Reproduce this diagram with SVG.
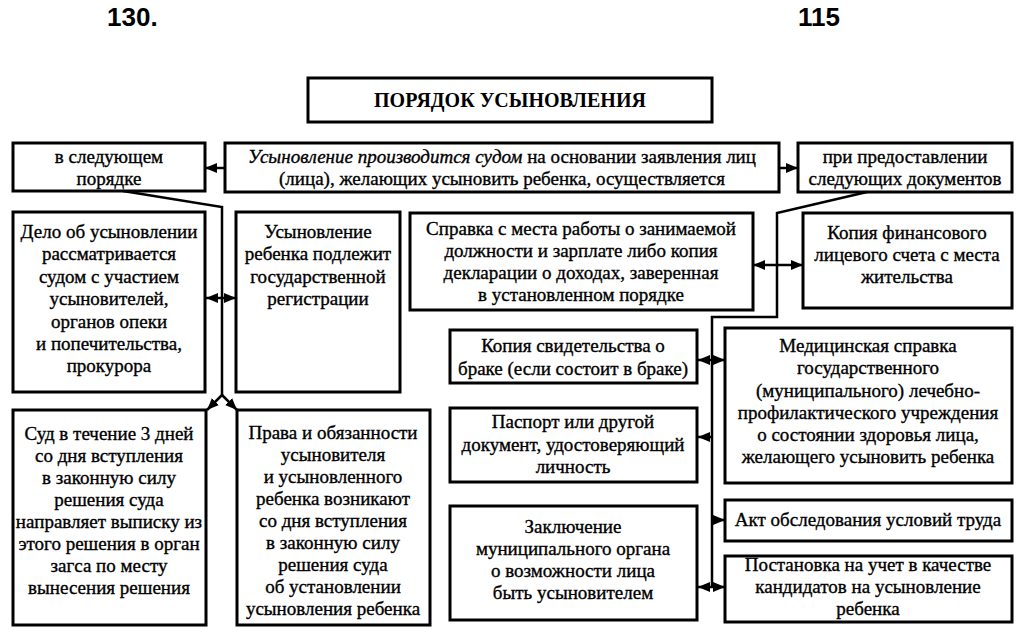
<svg xmlns="http://www.w3.org/2000/svg" width="1028" height="643" viewBox="0 0 1028 643">
<style>
  .box{fill:#fff;stroke:#000;stroke-width:3}
  .t{font-family:'Liberation Serif','Times New Roman','DejaVu Serif',serif;font-size:19px;fill:#000;stroke:#000;stroke-width:0.35;text-anchor:middle}
  .ttl{font-family:'Liberation Serif','Times New Roman','DejaVu Serif',serif;font-size:20px;font-weight:bold;fill:#000;text-anchor:middle}
  .pg{font-family:'Liberation Sans',Arial,sans-serif;font-size:26px;font-weight:bold;fill:#000}
  .c{fill:none;stroke:#000;stroke-width:2.5}
</style>
<defs>
  <marker id="ah" viewBox="0 0 12 10" refX="12" refY="5" markerWidth="12" markerHeight="10" markerUnits="userSpaceOnUse" orient="auto-start-reverse">
    <path d="M0,0 L12,5 L0,10 z" fill="#000"/>
  </marker>
</defs>
<rect width="1028" height="643" fill="#fff"/>
<text class="pg" x="107" y="26">130.</text>
<text class="pg" x="798" y="26">115</text>

<g id="title">
  <rect class="box" x="308" y="78" width="404" height="44"/>
  <text class="ttl" x="510" y="107">ПОРЯДОК УСЫНОВЛЕНИЯ</text>
</g>
<g id="order">
  <rect class="box" x="13" y="143" width="192" height="48"/>
  <text class="t" x="109" y="163">в следующем</text>
  <text class="t" x="109" y="185">порядке</text>
</g>
<g id="main">
  <rect class="box" x="225" y="143" width="554" height="49"/>
  <text class="t" x="502" y="163"><tspan font-style="italic">Усыновление производится судом</tspan> на основании заявления лиц</text>
  <text class="t" x="502" y="185">(лица), желающих усыновить ребенка, осуществляется</text>
</g>
<g id="docs">
  <rect class="box" x="798" y="143" width="214" height="49"/>
  <text class="t" x="905" y="163">при предоставлении</text>
  <text class="t" x="905" y="185">следующих документов</text>
</g>
<g id="case">
  <rect class="box" x="13" y="212" width="192" height="180"/>
  <text class="t" x="109" y="238">Дело об усыновлении</text>
  <text class="t" x="109" y="260">рассматривается</text>
  <text class="t" x="109" y="283">судом с участием</text>
  <text class="t" x="109" y="305">усыновителей,</text>
  <text class="t" x="109" y="328">органов опеки</text>
  <text class="t" x="109" y="350">и попечительства,</text>
  <text class="t" x="109" y="372">прокурора</text>
</g>
<g id="registration">
  <rect class="box" x="236" y="212" width="164" height="180"/>
  <text class="t" x="318" y="238">Усыновление</text>
  <text class="t" x="318" y="260">ребенка подлежит</text>
  <text class="t" x="318" y="283">государственной</text>
  <text class="t" x="318" y="305">регистрации</text>
</g>
<g id="court">
  <rect class="box" x="13" y="410" width="193" height="215"/>
  <text class="t" x="109" y="440">Суд в течение 3 дней</text>
  <text class="t" x="109" y="462">со дня вступления</text>
  <text class="t" x="109" y="484">в законную силу</text>
  <text class="t" x="109" y="506">решения суда</text>
  <text class="t" x="109" y="528">направляет выписку из</text>
  <text class="t" x="109" y="550">этого решения в орган</text>
  <text class="t" x="109" y="572">загса по месту</text>
  <text class="t" x="109" y="594">вынесения решения</text>
</g>
<g id="rights">
  <rect class="box" x="237" y="410" width="193" height="215"/>
  <text class="t" x="333" y="439">Права и обязанности</text>
  <text class="t" x="333" y="461">усыновителя</text>
  <text class="t" x="333" y="483">и усыновленного</text>
  <text class="t" x="333" y="505">ребенка возникают</text>
  <text class="t" x="333" y="527">со дня вступления</text>
  <text class="t" x="333" y="549">в законную силу</text>
  <text class="t" x="333" y="571">решения суда</text>
  <text class="t" x="333" y="593">об установлении</text>
  <text class="t" x="333" y="615">усыновления ребенка</text>
</g>
<g id="work">
  <rect class="box" x="410" y="213" width="343" height="97"/>
  <text class="t" x="581" y="235">Справка с места работы о занимаемой</text>
  <text class="t" x="581" y="257">должности и зарплате либо копия</text>
  <text class="t" x="581" y="279">декларации о доходах, заверенная</text>
  <text class="t" x="581" y="301">в установленном порядке</text>
</g>
<g id="account">
  <rect class="box" x="803" y="213" width="209" height="95"/>
  <text class="t" x="907" y="239">Копия финансового</text>
  <text class="t" x="907" y="261">лицевого счета с места</text>
  <text class="t" x="907" y="283">жительства</text>
</g>
<g id="marriage">
  <rect class="box" x="450" y="330" width="247" height="53"/>
  <text class="t" x="573" y="352">Копия свидетельства о</text>
  <text class="t" x="573" y="375">браке (если состоит в браке)</text>
</g>
<g id="medical">
  <rect class="box" x="725" y="328" width="287" height="155"/>
  <text class="t" x="868" y="352">Медицинская справка</text>
  <text class="t" x="868" y="374">государственного</text>
  <text class="t" x="868" y="397">(муниципального) лечебно-</text>
  <text class="t" x="868" y="419">профилактического учреждения</text>
  <text class="t" x="868" y="441">о состоянии здоровья лица,</text>
  <text class="t" x="868" y="463">желающего усыновить ребенка</text>
</g>
<g id="passport">
  <rect class="box" x="450" y="408" width="247" height="74"/>
  <text class="t" x="573" y="428">Паспорт или другой</text>
  <text class="t" x="573" y="451">документ, удостоверяющий</text>
  <text class="t" x="573" y="473">личность</text>
</g>
<g id="conclusion">
  <rect class="box" x="450" y="506" width="247" height="114"/>
  <text class="t" x="573" y="533">Заключение</text>
  <text class="t" x="573" y="555">муниципального органа</text>
  <text class="t" x="573" y="577">о возможности лица</text>
  <text class="t" x="573" y="599">быть усыновителем</text>
</g>
<g id="inspection">
  <rect class="box" x="725" y="500" width="287" height="41"/>
  <text class="t" x="868" y="526">Акт обследования условий труда</text>
</g>
<g id="registry">
  <rect class="box" x="725" y="556" width="287" height="66"/>
  <text class="t" x="868" y="571">Постановка на учет в качестве</text>
  <text class="t" x="868" y="593">кандидатов на усыновление</text>
  <text class="t" x="868" y="615">ребенка</text>
</g>

<g id="connectors">
  <line class="c" x1="225" y1="168" x2="205" y2="168" marker-end="url(#ah)"/>
  <line class="c" x1="779" y1="168" x2="798" y2="168" marker-end="url(#ah)"/>
  <polyline class="c" points="123,191 222,207 222,395"/>
  <line class="c" x1="222" y1="395" x2="207" y2="410" marker-end="url(#ah)"/>
  <line class="c" x1="222" y1="395" x2="237" y2="410" marker-end="url(#ah)"/>
  <line class="c" x1="206" y1="298" x2="236" y2="298" marker-start="url(#ah)" marker-end="url(#ah)"/>
  <polyline class="c" points="867,192 777,213 777,317 712,317 712,587"/>
  <line class="c" x1="753" y1="265" x2="803" y2="265" marker-start="url(#ah)" marker-end="url(#ah)"/>
  <line class="c" x1="698" y1="360" x2="725" y2="360" marker-start="url(#ah)" marker-end="url(#ah)"/>
  <line class="c" x1="712" y1="437" x2="698" y2="437" marker-end="url(#ah)"/>
  <line class="c" x1="712" y1="520" x2="725" y2="520" marker-end="url(#ah)"/>
  <line class="c" x1="698" y1="587" x2="725" y2="587" marker-start="url(#ah)" marker-end="url(#ah)"/>
</g>
</svg>
